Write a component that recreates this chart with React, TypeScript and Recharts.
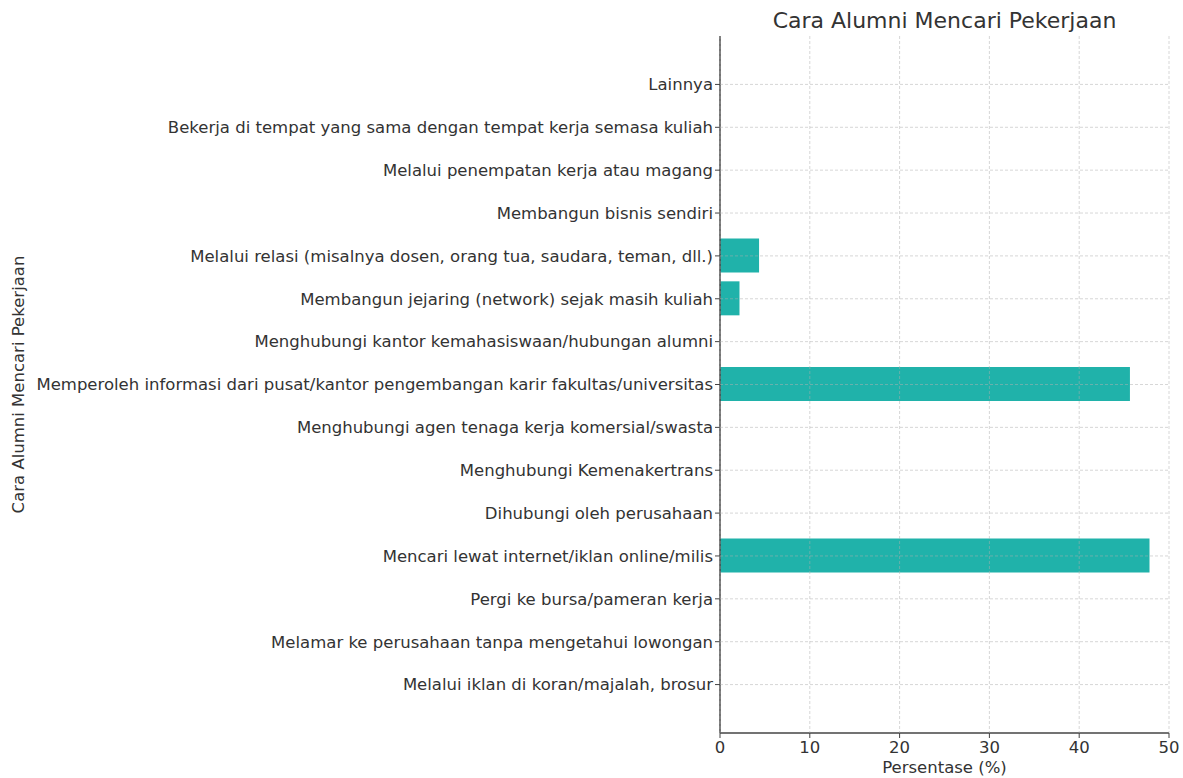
import React from 'react';
import { BarChart, Bar, XAxis, YAxis, CartesianGrid, Customized, ReferenceLine } from 'recharts';

const categories: string[] = [
  'Lainnya',
  'Bekerja di tempat yang sama dengan tempat kerja semasa kuliah',
  'Melalui penempatan kerja atau magang',
  'Membangun bisnis sendiri',
  'Melalui relasi (misalnya dosen, orang tua, saudara, teman, dll.)',
  'Membangun jejaring (network) sejak masih kuliah',
  'Menghubungi kantor kemahasiswaan/hubungan alumni',
  'Memperoleh informasi dari pusat/kantor pengembangan karir fakultas/universitas',
  'Menghubungi agen tenaga kerja komersial/swasta',
  'Menghubungi Kemenakertrans',
  'Dihubungi oleh perusahaan',
  'Mencari lewat internet/iklan online/milis',
  'Pergi ke bursa/pameran kerja',
  'Melamar ke perusahaan tanpa mengetahui lowongan',
  'Melalui iklan di koran/majalah, brosur',
];

const percentages: number[] = [0, 0, 0, 0, 4.35, 2.17, 0, 45.65, 0, 0, 0, 47.83, 0, 0, 0];

const xTicks: number[] = [0, 10, 20, 30, 40, 50];

const title = 'Cara Alumni Mencari Pekerjaan';
const xLabel = 'Persentase (%)';
const yLabel = 'Cara Alumni Mencari Pekerjaan';

const data = categories.map((name, i) => ({ name, value: percentages[i] }));

const FONT = '"DejaVu Sans", sans-serif';
const TEXT = '#333333';
const AXIS = '#444444';
const GRID = '#b0b0b0';
const PAD = 27;

const Texts = () => (
  <g fontFamily={FONT} fill={TEXT}>
    <text x={944.5} y={28} textAnchor="middle" fontSize={22} fill={TEXT}>
      {title}
    </text>
    <text x={944.5} y={773} textAnchor="middle" fontSize={16.5} fill={TEXT}>
      {xLabel}
    </text>
    <text
      x={24}
      y={384.5}
      textAnchor="middle"
      fontSize={16.5}
      fill={TEXT}
      transform="rotate(-90 24 384.5)"
    >
      {yLabel}
    </text>
  </g>
);

export default function App() {
  return (
    <div style={{ position: 'absolute', left: 0, top: 0, background: '#fff' }}>
      <BarChart
        width={1183}
        height={778}
        data={data}
        layout="vertical"
        margin={{ top: 36, right: 14, bottom: 0, left: 0 }}
      >
        <XAxis
          type="number"
          domain={[0, 50]}
          ticks={xTicks}
          height={45}
          tickSize={5}
          tickMargin={3}
          stroke={AXIS}
          axisLine={{ stroke: AXIS, strokeWidth: 1.5 }}
          tickLine={{ stroke: AXIS }}
          tick={{ fill: TEXT, fontSize: 16.5, fontFamily: FONT }}
        />
        <YAxis
          type="category"
          dataKey="name"
          width={720}
          interval={0}
          padding={{ top: PAD, bottom: PAD }}
          tickSize={5}
          tickMargin={2}
          stroke={AXIS}
          axisLine={{ stroke: AXIS, strokeWidth: 1.5 }}
          tickLine={{ stroke: AXIS }}
          tick={{ fill: TEXT, fontSize: 16.5, fontFamily: FONT }}
        />
        <Bar dataKey="value" fill="#20B2AA" barSize={34} isAnimationActive={false} />
        <CartesianGrid
          horizontal={false}
          stroke={GRID}
          strokeOpacity={0.5}
          strokeDasharray="3 2"
          zIndex={2000}
        />
        {categories.map((c) => (
          <ReferenceLine
            key={c}
            y={c}
            stroke={GRID}
            strokeOpacity={0.5}
            strokeDasharray="3 2"
            zIndex={2000}
          />
        ))}
        <Customized component={<Texts />} />
      </BarChart>
    </div>
  );
}
